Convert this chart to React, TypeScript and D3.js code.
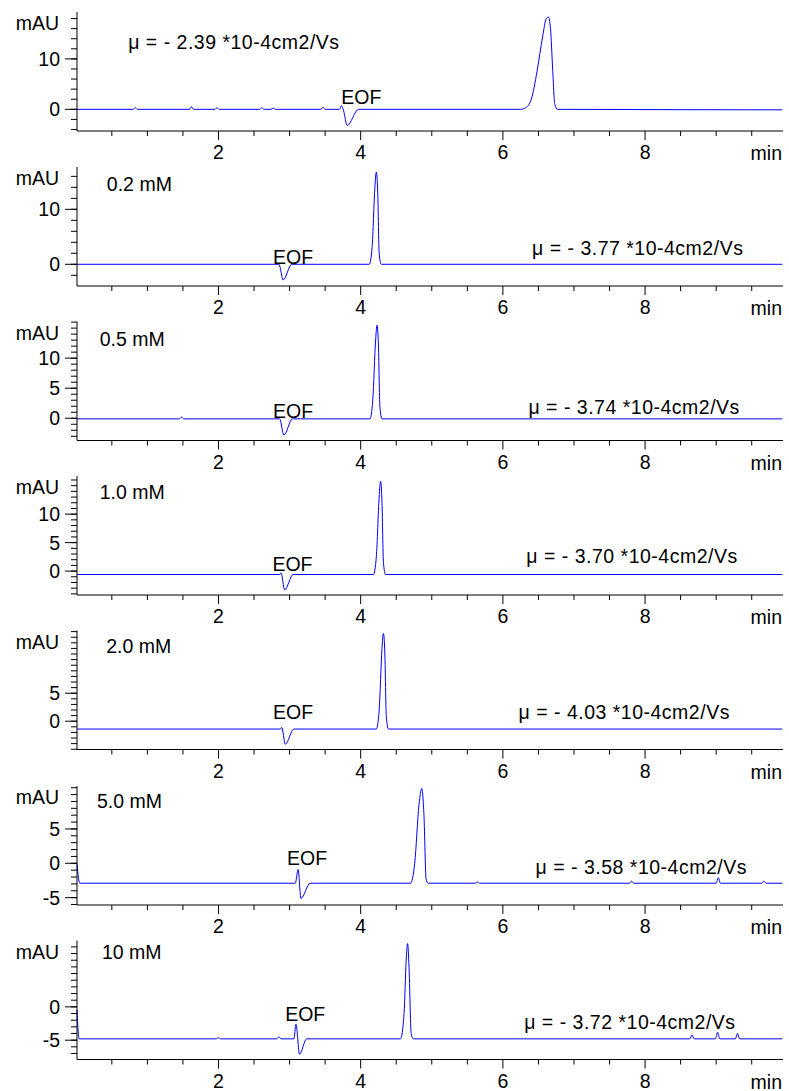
import React from 'react';
import * as d3 from 'd3';

const W = 789;
const H = 1091;
const FONT = 'Arial, "Liberation Sans", sans-serif';

// time axis (min)
const timeTicks = [2, 4, 6, 8];
const timeMinorTicks = [0.5, 1, 1.5, 2.5, 3, 3.5, 4.5, 5, 5.5, 6.5, 7, 7.5, 8.5, 9, 9.5];

const concLabels = ['', '0.2 mM', '0.5 mM', '1.0 mM', '2.0 mM', '5.0 mM', '10 mM'];
const mobilities = ['- 2.39', '- 3.77', '- 3.74', '- 3.70', '- 4.03', '- 3.58', '- 3.72'];

// y tick labels per panel (mAU)
const yLabels = [[0, 10], [0, 10], [0, 5, 10], [0, 5, 10], [0, 5], [-5, 0, 5], [-5, 0]];
const yMinorStep = [2, 2, 1, 1, 1, 1, 1];

// traces [time, mAU]
const trace0: [number, number][] = [
  [0.01, 0], [0.8, 0], [0.83, 0.3], [0.86, 0], [1.59, 0], [1.62, 0.5], [1.65, 0],
  [1.95, 0], [1.98, 0.3], [2.01, 0], [2.58, 0], [2.61, 0.3], [2.64, 0], [2.74, 0],
  [2.77, 0.25], [2.8, 0], [3.44, 0], [3.47, 0.4], [3.5, 0], [3.7, 0], [3.73, 0.7],
  [3.76, -0.3], [3.81, -3.2], [3.97, 0], [6.25, 0], [6.32, 0.3], [6.4, 2], [6.48, 7.5],
  [6.56, 14.5], [6.61, 18], [6.64, 18.3], [6.67, 16], [6.7, 8], [6.73, 1], [6.77, 0],
  [9.93, -0.1],
];
const trace1: [number, number][] = [
  [0.01, 0], [2.85, 0], [2.91, -2.85], [3.03, 0], [4.12, 0], [4.16, 3], [4.2, 14],
  [4.22, 16.8], [4.24, 13], [4.26, 2], [4.29, 0], [9.93, 0],
];
const trace2: [number, number][] = [
  [0.01, -0.1], [1.45, -0.1], [1.48, 0.2], [1.51, -0.1], [2.86, -0.1], [2.92, -2.8],
  [3.04, -0.1], [4.13, -0.1], [4.17, 3], [4.21, 13], [4.23, 15.5], [4.25, 12], [4.27, 2],
  [4.3, -0.1], [9.93, -0.1],
];
const trace3: [number, number][] = [
  [0.01, -0.6], [2.86, -0.6], [2.88, -0.3], [2.93, -3.3], [3.05, -0.6], [4.18, -0.6],
  [4.22, 2.5], [4.26, 13], [4.28, 15.8], [4.3, 12], [4.32, 1.5], [4.35, -0.6], [9.93, -0.6],
];
const trace4: [number, number][] = [
  [0.01, -1.4], [2.87, -1.4], [2.89, -1.1], [2.94, -4.1], [3.06, -1.4], [4.22, -1.4],
  [4.26, 2], [4.3, 13], [4.32, 15.7], [4.34, 12], [4.36, 1], [4.39, -1.4], [9.93, -1.4],
];
const trace5: [number, number][] = [
  [0.01, -0.2], [0.05, -2.9], [3.08, -2.9], [3.12, -0.9], [3.16, -5.1], [3.29, -2.9],
  [4.7, -2.9], [4.76, 0], [4.82, 8.5], [4.86, 10.9], [4.89, 7], [4.92, -2.3], [4.95, -2.9],
  [5.61, -2.9], [5.64, -2.7], [5.67, -2.9], [7.78, -2.9], [7.81, -2.6], [7.84, -2.9],
  [9.0, -2.9], [9.03, -2.1], [9.06, -2.9], [9.64, -2.9], [9.67, -2.6], [9.7, -2.9],
  [9.93, -2.9],
];
const trace6: [number, number][] = [
  [0.01, -0.5], [0.04, -4.8], [1.97, -4.8], [2.0, -4.6], [2.03, -4.8], [2.82, -4.8],
  [2.85, -4.5], [2.88, -4.8], [3.06, -4.8], [3.09, -2.6], [3.14, -7.1], [3.24, -4.8],
  [4.56, -4.8], [4.61, -1], [4.64, 7], [4.66, 9.5], [4.68, 6], [4.71, -4], [4.74, -4.8],
  [8.63, -4.8], [8.66, -4.2], [8.69, -4.8], [8.99, -4.8], [9.02, -3.8], [9.05, -4.8],
  [9.27, -4.8], [9.3, -4.0], [9.33, -4.8], [9.93, -4.8],
];
const traces = [trace0, trace1, trace2, trace3, trace4, trace5, trace6];

// panel geometry: x-axis line position, y domain, annotation anchors [time, mAU]
const panels = [
  { axisY: 131, y: [-4.3, 19.3], eof: [4.01, 2.5], mu: [0.73, 13.3], conc: [0, 0] },
  { axisY: 286, y: [-3.95, 17.7], eof: [3.05, 1.4], mu: [6.41, 3.0], conc: [0.43, 14.6] },
  { axisY: 440.5, y: [-3.7, 16.1], eof: [3.05, 1.2], mu: [6.36, 1.8], conc: [0.33, 13.2] },
  { axisY: 595, y: [-4.2, 16.7], eof: [3.04, 1.2], mu: [6.33, 2.6], conc: [0.33, 13.9] },
  { axisY: 749.5, y: [-5.05, 16.2], eof: [3.05, 1.6], mu: [6.22, 1.6], conc: [0.42, 13.4] },
  { axisY: 905, y: [-6.07, 11.25], eof: [3.245, 0.77], mu: [6.46, -0.5], conc: [0.29, 9.0] },
  { axisY: 1059.5, y: [-7.9, 9.96], eof: [3.22, -1.1], mu: [6.3, -2.25], conc: [0.36, 8.25] },
];

const PANEL_H = 119;
const x = d3.scaleLinear().domain([0.01, 9.94]).range([77, 783]);

function Panel({ i }: { i: number }) {
  const p = panels[i];
  const y = d3.scaleLinear().domain(p.y).range([p.axisY, p.axisY - PANEL_H]);
  const line = d3
    .line<[number, number]>()
    .x((d) => x(d[0]))
    .y((d) => y(d[1]))
    .curve(d3.curveMonotoneX);
  const step = yMinorStep[i];
  const minor: number[] = [];
  for (let v = Math.ceil(p.y[0] / step) * step; v <= p.y[1]; v += step) minor.push(v);
  const x0 = x.range()[0];
  return (
    <g>
      <path d={line(traces[i]) || ''} fill="none" stroke="#0000ff" strokeWidth={1} />
      {/* x axis */}
      <line x1={x0} x2={x.range()[1]} y1={p.axisY} y2={p.axisY} stroke="#000" />
      {timeMinorTicks.map((t) => (
        <line key={'m' + t} x1={x(t)} x2={x(t)} y1={p.axisY} y2={p.axisY + 5} stroke="#000" />
      ))}
      {timeTicks.map((t) => (
        <g key={'t' + t}>
          <line x1={x(t)} x2={x(t)} y1={p.axisY} y2={p.axisY + 9} stroke="#000" />
          <text x={x(t)} y={p.axisY + 21} textAnchor="middle" dominantBaseline="central">
            {t}
          </text>
        </g>
      ))}
      <text x={782} y={p.axisY + 22} textAnchor="end" dominantBaseline="central">
        min
      </text>
      {/* y axis */}
      <line x1={x0} x2={x0} y1={p.axisY} y2={p.axisY - PANEL_H} stroke="#000" />
      {minor.map((v) => (
        <line key={'ym' + v} x1={x0 - 6} x2={x0} y1={y(v)} y2={y(v)} stroke="#000" />
      ))}
      {yLabels[i].map((v) => (
        <g key={'yl' + v}>
          <line x1={x0 - 12} x2={x0} y1={y(v)} y2={y(v)} stroke="#000" />
          <text x={x0 - 17} y={y(v)} textAnchor="end" dominantBaseline="central">
            {v}
          </text>
        </g>
      ))}
      <text x={59} y={p.axisY - PANEL_H + 11} textAnchor="end" dominantBaseline="central">
        mAU
      </text>
      {/* annotations */}
      <text x={x(p.eof[0])} y={y(p.eof[1])} textAnchor="middle" dominantBaseline="central">
        EOF
      </text>
      <text x={x(p.mu[0])} y={y(p.mu[1])} dominantBaseline="central" letterSpacing={0.5}>
        {`μ = ${mobilities[i]} *10-4cm2/Vs`}
      </text>
      {concLabels[i] && (
        <text x={x(p.conc[0])} y={y(p.conc[1])} dominantBaseline="central">
          {concLabels[i]}
        </text>
      )}
    </g>
  );
}

export default function App() {
  return (
    <svg
      width={W}
      height={H}
      style={{ position: 'absolute', left: 0, top: 0, background: '#fff' }}
      fontFamily={FONT}
      fontSize={19.5}
      fill="#000"
    >
      {panels.map((_, i) => (
        <Panel key={i} i={i} />
      ))}
    </svg>
  );
}
